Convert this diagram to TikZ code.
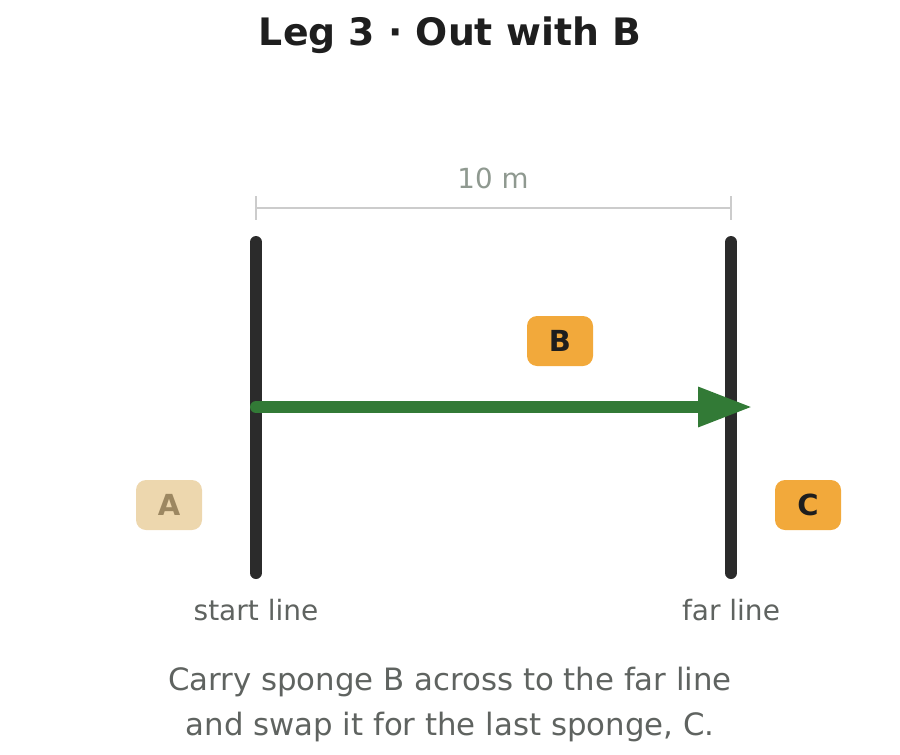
\documentclass[tikz,border=0pt]{standalone}
\usepackage{fontspec}
\setmainfont{DejaVu Sans}
\usetikzlibrary{arrows.meta}
\definecolor{linedark}{HTML}{2B2B2B}
\definecolor{arrowgreen}{HTML}{327A36}
\definecolor{dimgray}{HTML}{CCCCCC}
\definecolor{dimtext}{HTML}{8F9990}
\definecolor{labeltext}{HTML}{5F6360}
\definecolor{titletext}{HTML}{1E1E1E}
\definecolor{spongeorange}{HTML}{F2A93B}
\definecolor{spongepale}{HTML}{EDD7AE}
\definecolor{spongepaletext}{HTML}{9C8761}
\tikzset{
  racemark/.style={draw=linedark, line width=12pt, line cap=round},
  dimline/.style={draw=dimgray, line width=2.5pt},
  sponge/.style={rounded corners=10pt, minimum width=66pt, minimum height=50pt, inner sep=0pt,
     font=\fontsize{29}{32}\selectfont\bfseries},
  activesponge/.style={sponge, fill=spongeorange, text=titletext},
  donesponge/.style={sponge, fill=spongepale, text=spongepaletext},
  lbl/.style={inner sep=0pt, anchor=base, text=labeltext, font=\fontsize{28}{34}\selectfont},
}
\begin{document}
\begin{tikzpicture}[x=1pt,y=-1pt]
\useasboundingbox (0,0) rectangle (900,755);
% title
\node[inner sep=0pt, anchor=base, text=titletext, font=\fontsize{37.8}{44}\selectfont\bfseries] (title) at (450,45) {Leg 3 · Out with B};
% dimension
\coordinate (d1) at (256,208);
\coordinate (d2) at (731,208);
\coordinate (d1t) at (256,196);
\coordinate (d1b) at (256,220);
\coordinate (d2t) at (731,196);
\coordinate (d2b) at (731,220);
\draw[dimline] (d1) -- (d2);
\draw[dimline] (d1t) -- (d1b);
\draw[dimline] (d2t) -- (d2b);
\node[inner sep=0pt, anchor=base, text=dimtext, font=\fontsize{27.7}{32}\selectfont] (dist) at (493,188) {10 m};
% lines
\coordinate (s1) at (256,242);
\coordinate (s2) at (256,573);
\coordinate (f1) at (731,242);
\coordinate (f2) at (731,573);
\draw[racemark] (s1) -- (s2);
\draw[racemark] (f1) -- (f2);
% arrow
\coordinate (a1) at (256,407);
\coordinate (a2) at (753,407);
\draw[draw=arrowgreen, line width=12pt, line cap=round, -{Triangle[length=55pt,width=37pt,fill=arrowgreen]}] (a1) -- (a2);
% sponges
\node[activesponge] (B) at (560,341) {B};
\node[donesponge] (A) at (169,505) {A};
\node[activesponge] (C) at (808,505) {C};
% labels
\node[lbl] (startlbl) at (256,620) {start line};
\node[lbl] (farlbl) at (731,620) {far line};
\node[lbl, font=\fontsize{30.8}{36}\selectfont] (cap1) at (450,690) {Carry sponge B across to the far line};
\node[lbl, font=\fontsize{30.8}{36}\selectfont] (cap2) at (450,735) {and swap it for the last sponge, C.};
\end{tikzpicture}
\end{document}
